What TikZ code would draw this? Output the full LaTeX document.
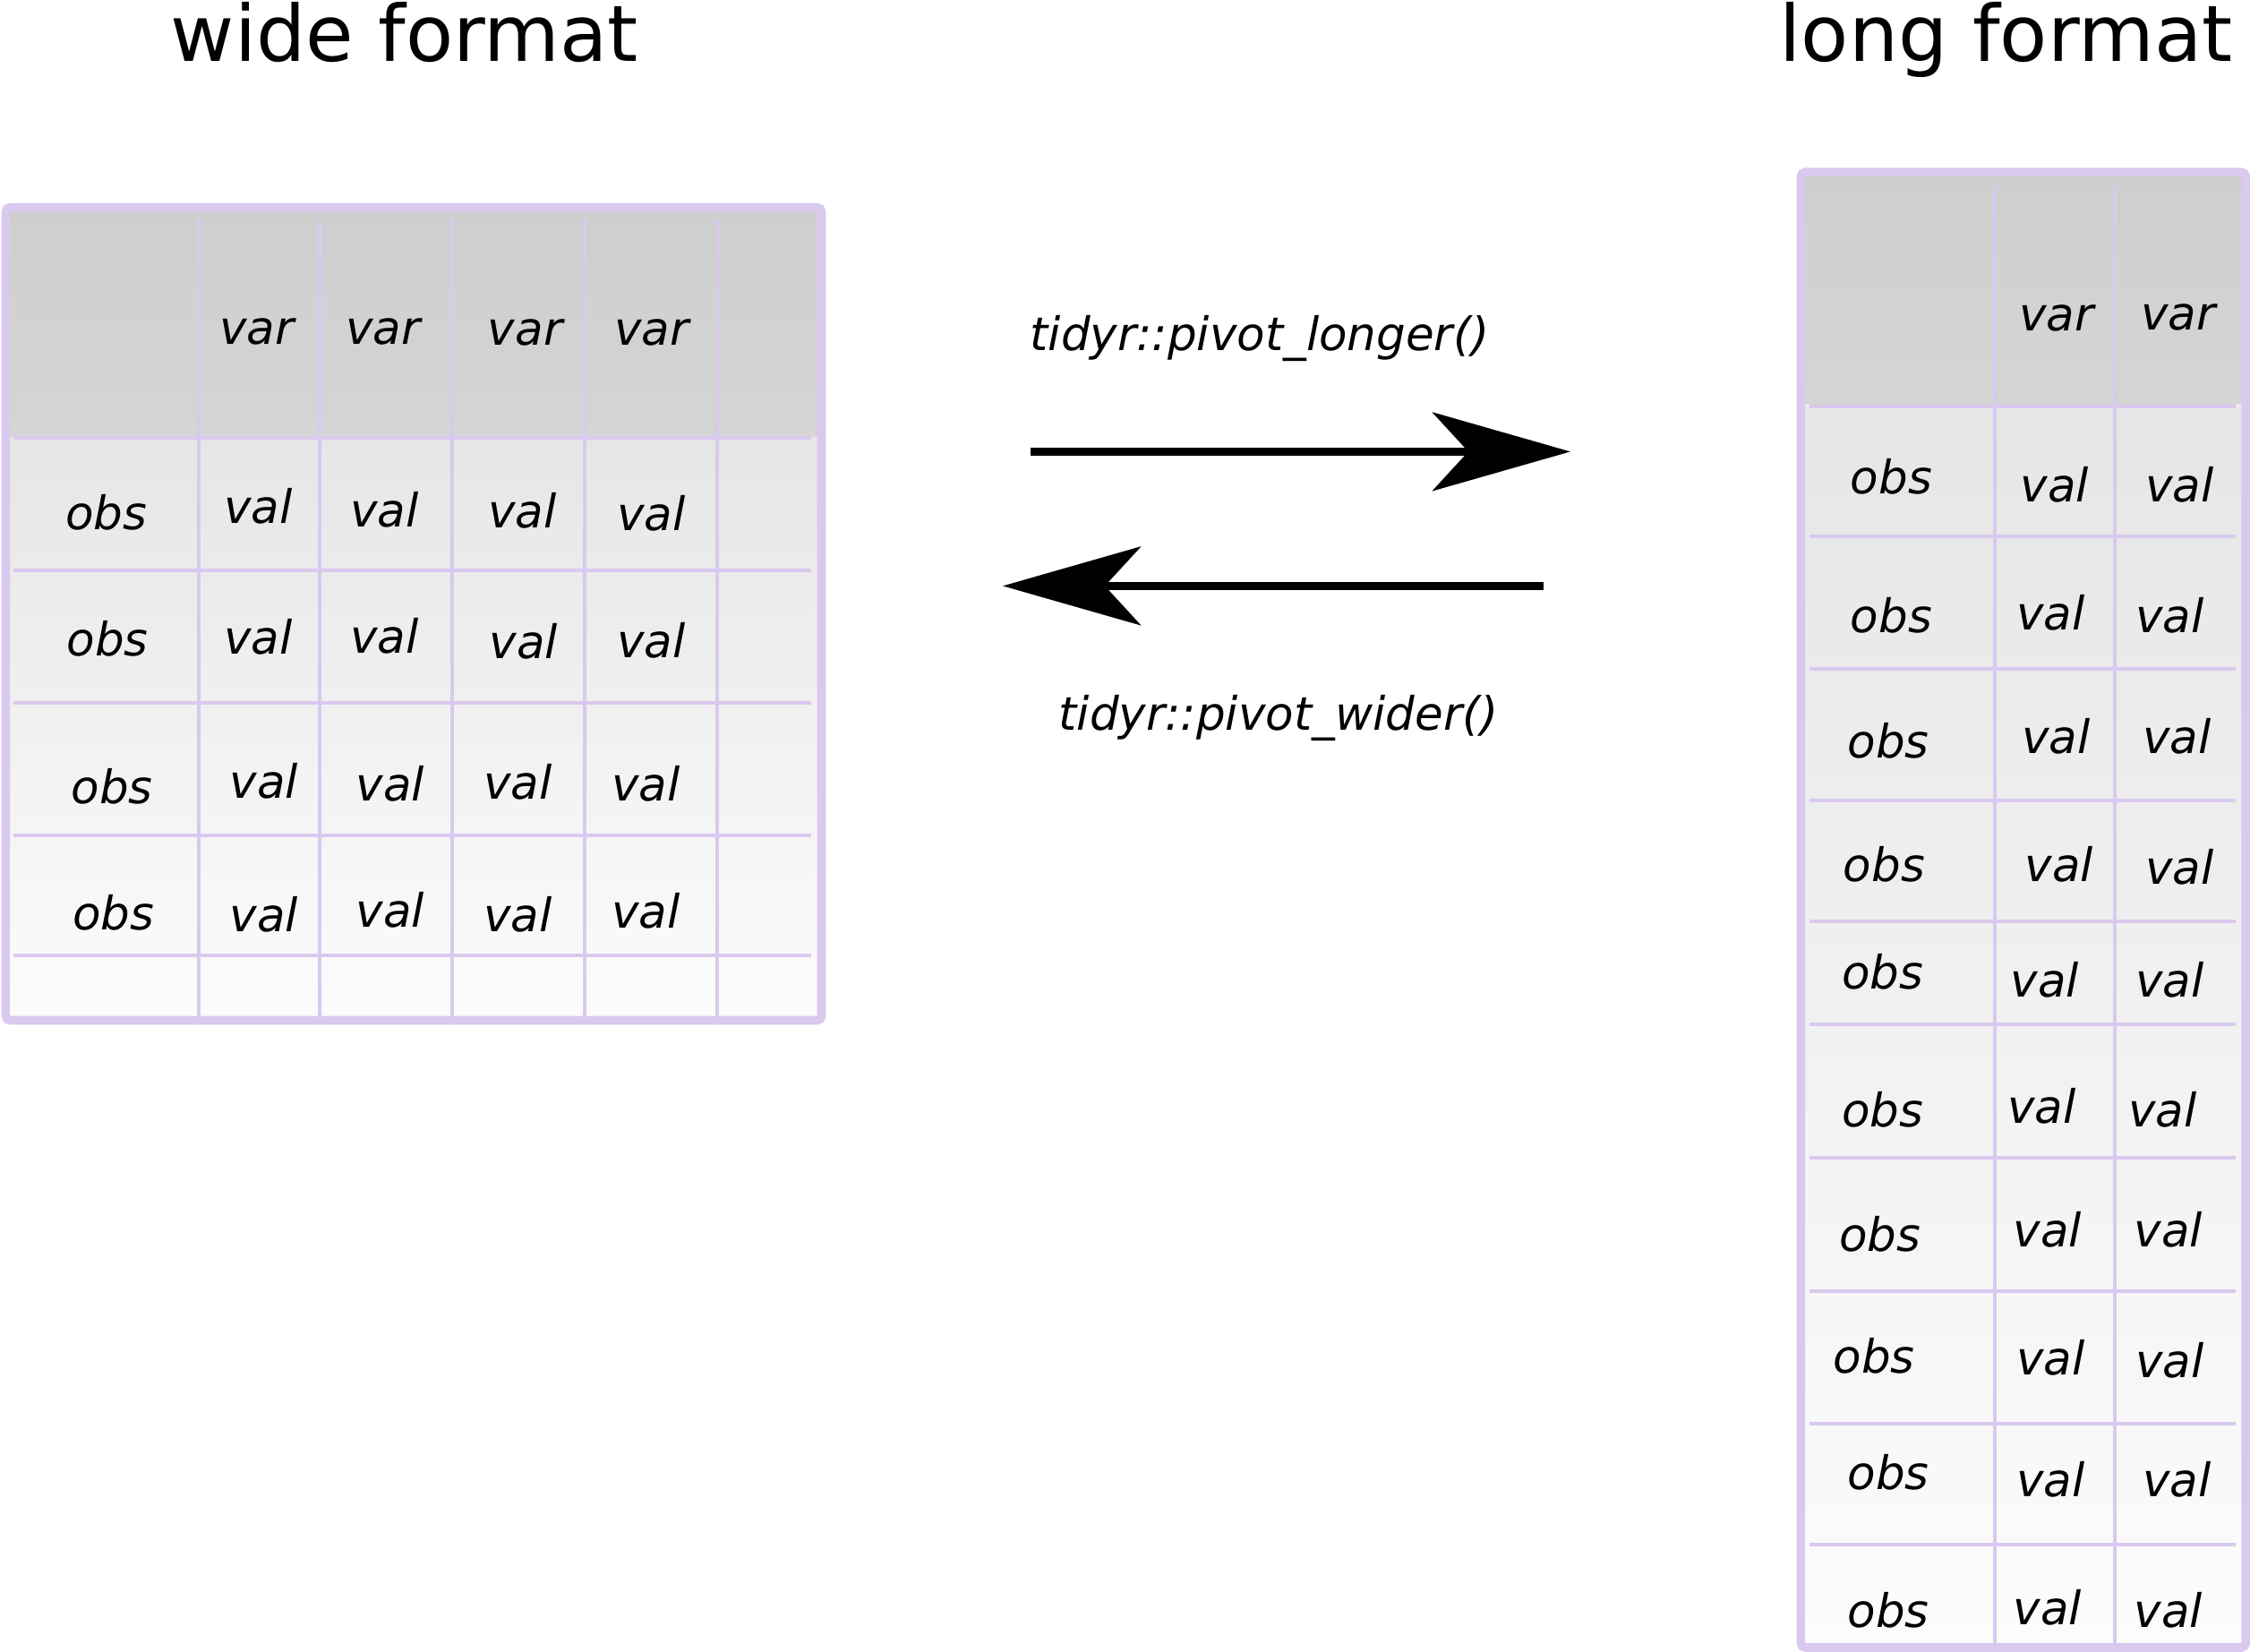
\documentclass[tikz,border=0pt]{standalone}
\usepackage{fontspec}
\setmainfont{DejaVu Sans}
\usetikzlibrary{arrows.meta}
\definecolor{lav}{RGB}{217,201,239}
\definecolor{hdtop}{RGB}{206,206,206}
\definecolor{hdbot}{RGB}{213,213,213}
\definecolor{bdtop}{RGB}{230,230,230}
\definecolor{bdbot}{RGB}{252,252,252}
\tikzset{
  frame/.style={draw=lav, line width=2.9pt, rounded corners=1.5pt},
  gridline/.style={draw=lav, line width=1.2pt},
  bodyfill/.style={top color=bdtop, bottom color=bdbot},
  headfill/.style={top color=hdtop, bottom color=hdbot},
  cell/.style={font=\fontsize{15.45pt}{18pt}\selectfont\itshape, inner sep=0pt},
  fnlabel/.style={cell, anchor=base},
  titlelabel/.style={font=\fontsize{26.1pt}{30pt}\selectfont, inner sep=0pt, anchor=base},
  bigarrow/.style={line width=2.9pt, -{Stealth[length=46.2pt,width=26.3pt,inset=12pt]}}
}
\begin{document}
\begin{tikzpicture}[x=0.4808pt,y=-0.4808pt]
\useasboundingbox (0,0) rectangle (1568,1151);

% titles
\node[titlelabel] (twide) at (282,42.5) {wide format};
\node[titlelabel] (tlong) at (1398,43) {long format};

% ---------- wide table ----------
\fill[bodyfill] (4,305) rectangle (572.5,711);
\fill[headfill] (4,144.5) rectangle (572.5,304);
\foreach \y in {305,397.5,490,582,666} \draw[gridline] (9.5,\y) -- (565,\y);
\foreach \x in {138.5,222.5,315,407.5,500} \draw[gridline] (\x,153) -- (\x,708);
\draw[frame] (4,144.5) rectangle (572.5,711);

\foreach \x/\y [count=\i] in {179/231,267/231,366/232,454/232}
  \node[cell] (wvar\i) at (\x,\y) {var};
\foreach \x/\y [count=\i] in {74/357,75/445,78/548,79/636}
  \node[cell] (wobs\i) at (\x,\y) {obs};
\foreach \x/\y [count=\i] in {180/353,268/355,364/356,454/358,
                              180/444,268/443,365/447,454/446,
                              184/544,272/546,361/545,450/546,
                              184/637,272/634,361/637,450/635}
  \node[cell] (wval\i) at (\x,\y) {val};

% ---------- long table ----------
\fill[bodyfill] (1255,283) rectangle (1565,1148);
\fill[headfill] (1255,120) rectangle (1565,282);
\foreach \y in {283,374,466,558,642,714,807,900,992,1076} \draw[gridline] (1261,\y) -- (1558,\y);
\foreach \x in {1390,1474} \draw[gridline] (\x,130) -- (\x,1145);
\draw[frame] (1255,120) rectangle (1565,1148);

\node[cell] (lvar1) at (1433,222) {var};
\node[cell] (lvar2) at (1518,221) {var};
\foreach \x/\y [count=\i] in {1318/332,1318/429,1316/516,1313/602,1312/677,
                              1312/773,1310/860,1306/945,1316/1026,1316/1122}
  \node[cell] (lobs\i) at (\x,\y) {obs};
\foreach \x/\y [count=\i] in {1432/338,1519/338, 1429/427,1512/429, 1433/513,1517/513,
                              1435/602,1519/604, 1425/683,1512/683, 1423/771,1507/773,
                              1427/857,1511/857, 1429/946,1512/948, 1429/1031,1517/1031,
                              1427/1120,1511/1122}
  \node[cell] (lval\i) at (\x,\y) {val};

% ---------- arrows ----------
\node[fnlabel] (flonger) at (877.8,244.4) {tidyr::pivot\_longer()};
\node[fnlabel] (fwider) at (891,509) {tidyr::pivot\_wider()};
\coordinate (a1s) at (718.3,314.7);
\coordinate (a1e) at (1094.4,314.7);
\coordinate (a2s) at (1075.4,408.3);
\coordinate (a2e) at (698.8,408.3);
\draw[bigarrow] (a1s) -- (a1e);
\draw[bigarrow] (a2s) -- (a2e);
\end{tikzpicture}
\end{document}
